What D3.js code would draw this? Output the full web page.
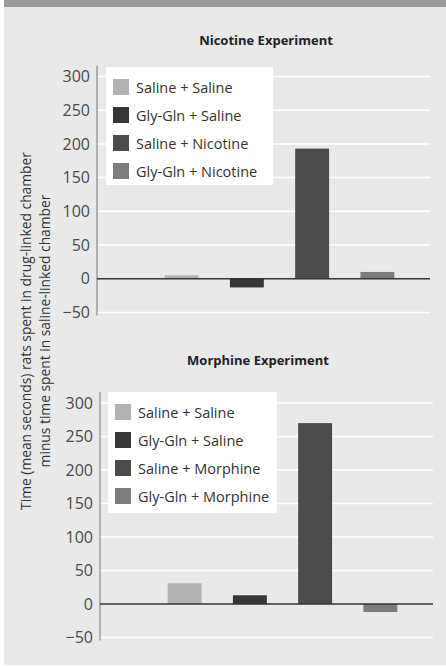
<!DOCTYPE html>
<html>
<head>
<meta charset="utf-8">
<script src="https://cdn.jsdelivr.net/npm/d3@7"></script>
<style>
  body { margin: 0; background: #fff; }
  svg { display: block; font-family: "Open Sans", sans-serif; }
</style>
</head>
<body>
<div id="chart"></div>
<script>
// data
var nicotineGroups = ['Saline + Saline', 'Gly-Gln + Saline', 'Saline + Nicotine', 'Gly-Gln + Nicotine']
var nicotineValues = [5, -13, 193, 10]
var morphineGroups = ['Saline + Saline', 'Gly-Gln + Saline', 'Saline + Morphine', 'Gly-Gln + Morphine']
var morphineValues = [31, 13, 270, -12]
var yTicks = [-50, 0, 50, 100, 150, 200, 250, 300]
var barColors = ['#b3b3b3', '#363636', '#4b4b4b', '#7c7c7c']

var width = 446, height = 667

var svg = d3.select('#chart').append('svg')
    .attr('width', width)
    .attr('height', height)

// panel background + top band
svg.append('rect').attr('x', 4).attr('y', 0).attr('width', width - 4).attr('height', 665).attr('fill', '#e9e9e9')
svg.append('rect').attr('x', 4).attr('y', 0).attr('width', width - 4).attr('height', 7).attr('fill', '#9b9b9b')

function drawPanel(opts) {
    var g = svg.append('g')

    var y = d3.scaleLinear()
        .domain([-50, 300])
        .range([opts.y300 + 7 * opts.step, opts.y300])
    var x = d3.scaleBand()
        .domain(opts.groups)
        .range([opts.barLeft, opts.barRight])
        .paddingInner(0.48)
        .paddingOuter(0.24)

    g.append('text')
        .attr('x', opts.titleX)
        .attr('y', opts.titleY)
        .attr('text-anchor', 'middle')
        .attr('font-size', 13)
        .attr('font-weight', 'bold')
        .attr('fill', '#222')
        .text(opts.title)

    // gridlines
    g.selectAll('.grid')
        .data(yTicks.filter(d => d !== 0))
        .join('line')
        .attr('x1', opts.axisX)
        .attr('x2', opts.gridRight)
        .attr('y1', d => y(d))
        .attr('y2', d => y(d))
        .attr('stroke', '#fff')
        .attr('stroke-width', 1.5)

    // y axis
    var axis = g.append('g')
        .attr('transform', 'translate(' + opts.axisX + ',0)')
        .call(d3.axisLeft(y).tickValues(yTicks).tickSize(0).tickPadding(7))
    axis.select('.domain').remove()
    axis.selectAll('text')
        .attr('font-size', 16)
        .attr('fill', '#4a4a4a')
        .attr('font-family', '"Open Sans", sans-serif')

    g.append('line')
        .attr('x1', opts.axisX)
        .attr('x2', opts.axisX)
        .attr('y1', y(300) - 11)
        .attr('y2', y(-50) + 3)
        .attr('stroke', '#888')
        .attr('stroke-width', 1.2)

    // legend
    var lg = g.append('g')
    lg.append('rect')
        .attr('x', opts.legX)
        .attr('y', opts.legY)
        .attr('width', opts.legW)
        .attr('height', opts.legH)
        .attr('fill', '#fff')
    var row = lg.selectAll('.row')
        .data(opts.groups)
        .join('g')
        .attr('transform', (d, i) => 'translate(' + (opts.legX + 7) + ',' + (opts.legY + 12 + i * 28) + ')')
    row.append('rect')
        .attr('width', 16)
        .attr('height', 16)
        .attr('fill', (d, i) => barColors[i])
    row.append('text')
        .attr('x', 23)
        .attr('y', 13.5)
        .attr('font-size', 14.5)
        .attr('fill', '#333')
        .text(d => d)

    // bars
    g.selectAll('.bar')
        .data(opts.values)
        .join('rect')
        .attr('x', (d, i) => x(opts.groups[i]))
        .attr('width', x.bandwidth())
        .attr('y', d => y(Math.max(0, d)))
        .attr('height', d => Math.abs(y(d) - y(0)))
        .attr('fill', (d, i) => barColors[i])

    // zero line
    g.append('line')
        .attr('x1', opts.axisX)
        .attr('x2', opts.gridRight)
        .attr('y1', y(0))
        .attr('y2', y(0))
        .attr('stroke', '#333')
        .attr('stroke-width', 1.6)
}

drawPanel({
    title: 'Nicotine Experiment', titleX: 266, titleY: 45,
    groups: nicotineGroups, values: nicotineValues,
    y300: 76.5, step: 33.7, axisX: 97, gridRight: 430,
    barLeft: 149, barRight: 410,
    legX: 106, legY: 67, legW: 167, legH: 118
})

drawPanel({
    title: 'Morphine Experiment', titleX: 258, titleY: 365,
    groups: morphineGroups, values: morphineValues,
    y300: 403, step: 33.5, axisX: 100, gridRight: 433,
    barLeft: 152, barRight: 413,
    legX: 108, legY: 392, legW: 169, legH: 121
})

// shared y label
svg.append('text')
    .attr('transform', 'translate(31,331) rotate(-90)')
    .attr('text-anchor', 'middle')
    .attr('font-size', 13.8)
    .attr('fill', '#333')
    .selectAll('tspan')
    .data(['Time (mean seconds) rats spent in drug-linked chamber', 'minus time spent in saline-linked chamber'])
    .join('tspan')
    .attr('x', 0)
    .attr('dy', (d, i) => i === 0 ? 0 : 18.5)
    .text(d => d)
</script>
</body>
</html>
